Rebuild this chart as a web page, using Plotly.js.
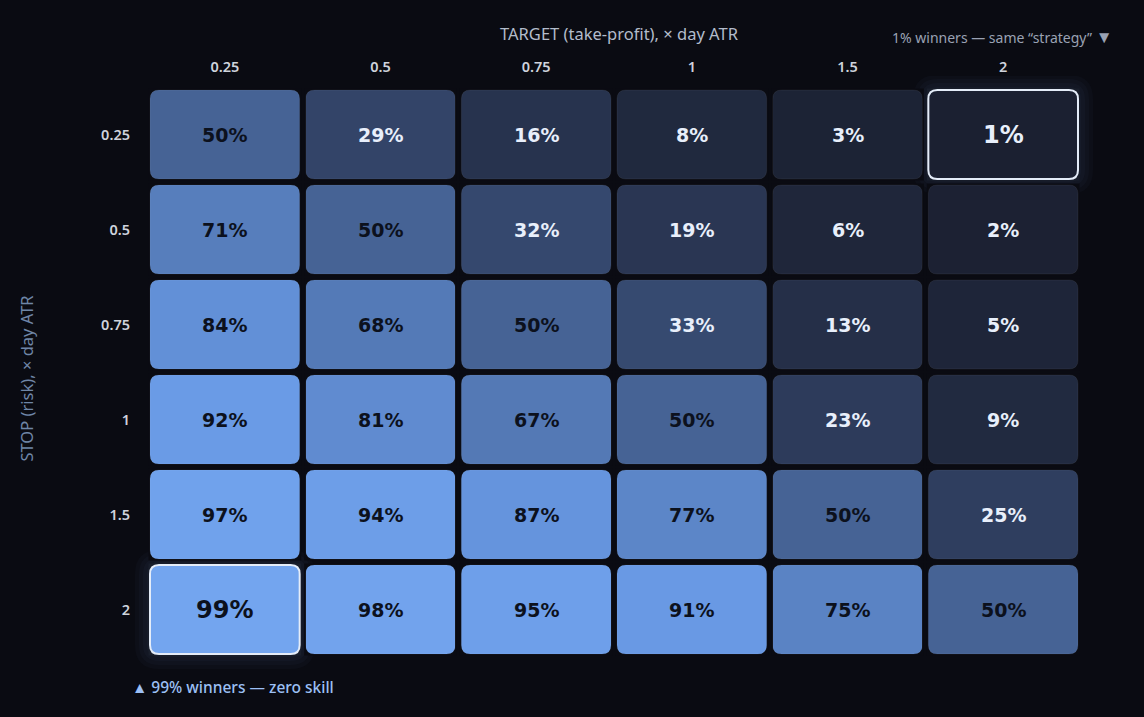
<!DOCTYPE html>
<html>
<head>
<meta charset="utf-8">
<script src="https://cdn.plot.ly/plotly-3.0.1.min.js"></script>
<style>
html,body{margin:0;padding:0;background:#0a0b12;}
#chart{width:1144px;height:717px;}
</style>
</head>
<body>
<div id="chart"></div>
<script>
// Target (take-profit) multiples, columns
const targetLabels = ["0.25", "0.5", "0.75", "1", "1.5", "2"];
// Stop (risk) multiples, rows
const stopLabels = ["0.25", "0.5", "0.75", "1", "1.5", "2"];
// Win rate (%) per stop row x target column
const row025 = [50, 29, 16, 8, 3, 1];
const row05  = [71, 50, 32, 19, 6, 2];
const row075 = [84, 68, 50, 33, 13, 5];
const row1   = [92, 81, 67, 50, 23, 9];
const row15  = [97, 94, 87, 77, 50, 25];
const row2   = [99, 98, 95, 91, 75, 50];
const winRates = [row025, row05, row075, row1, row15, row2];
// highlighted cells: [rowIndex, colIndex]
const highlightMin = [0, 5];
const highlightMax = [5, 0];
const topNote = "1% winners — same “strategy” <span style='font-size:17px'>▼</span>";
const bottomNote = "▲ 99% winners — zero skill";

const BG = "#0a0b12";
const W = 1144, H = 717;
// grid area (cells incl. half gaps) in pixels
const G = {l: 147, r: 1081, t: 87, b: 657};
// extra room around grid so glows are not clipped
const PAD = {l: 14, r: 24, t: 11, b: 24};
const M = {l: G.l - PAD.l, r: W - G.r - PAD.r, t: G.t - PAD.t, b: H - G.b - PAD.b};
const plotW = W - M.l - M.r, plotH = H - M.t - M.b;
const nx = targetLabels.length, ny = stopLabels.length;
const pxX = (G.r - G.l) / nx, pxY = (G.b - G.t) / ny;
const GAP = 6, RAD = 9;
const hx = (pxX - GAP) / 2 / pxX, hy = (pxY - GAP) / 2 / pxY;
const rx = RAD / pxX, ry = RAD / pxY;

const colorscale = [
  [0.00, "#1a1f2f"],
  [0.10, "#222b42"],
  [0.25, "#2f3e5f"],
  [0.50, "#466395"],
  [0.75, "#5a83c4"],
  [0.90, "#6898e3"],
  [1.00, "#74a6f0"]
];

function roundRect(cx, cy, epx) {
  const ex = epx / pxX, ey = epx / pxY;
  const x0 = cx - hx - ex, x1 = cx + hx + ex;
  const y0 = cy - hy - ey, y1 = cy + hy + ey;
  const a = rx + ex, b = ry + ey;
  return `M${x0 + a},${y0} L${x1 - a},${y0} Q${x1},${y0} ${x1},${y0 + b} ` +
         `L${x1},${y1 - b} Q${x1},${y1} ${x1 - a},${y1} L${x0 + a},${y1} ` +
         `Q${x0},${y1} ${x0},${y1 - b} L${x0},${y0 + b} Q${x0},${y0} ${x0 + a},${y0} Z`;
}
function cornerMask(cx, cy) {
  const e1 = 1.5 / pxX, e2 = 1.5 / pxY;
  const x0 = cx - hx - e1, x1 = cx + hx + e1, y0 = cy - hy - e2, y1 = cy + hy + e2;
  return `M${x0},${y0} L${x1},${y0} L${x1},${y1} L${x0},${y1} Z ` + roundRect(cx, cy, 0);
}

const xs = targetLabels.map((_, i) => i);
const ys = stopLabels.map((_, i) => i);
const isHiCell = (r, c) => (r === highlightMin[0] && c === highlightMin[1]) || (r === highlightMax[0] && c === highlightMax[1]);

const shapes = [];
const annotations = [];
// soft glow behind highlighted cells
[highlightMin, highlightMax].forEach(([r, c]) => {
  [15, 11, 7, 3].forEach(e => {
    shapes.push({type: "path", xref: "x", yref: "y", layer: "below",
      path: roundRect(c, r, e), line: {width: 0}, fillcolor: "rgba(125,160,230,0.033)"});
  });
});
for (let r = 0; r < ny; r++) {
  for (let c = 0; c < nx; c++) {
    const hi = isHiCell(r, c);
    shapes.push({type: "path", xref: "x", yref: "y", layer: "above",
      path: cornerMask(c, r), fillrule: "evenodd", fillcolor: hi ? "#191e2b" : BG, line: {width: 0}});
    shapes.push({type: "path", xref: "x", yref: "y", layer: "above",
      path: roundRect(c, r, 0), fillcolor: "rgba(0,0,0,0)",
      line: hi ? {color: "#e4ecf8", width: 2} : {color: "rgba(255,255,255,0.06)", width: 1}});
    const v = winRates[r][c];
    annotations.push({x: c, y: r, xref: "x", yref: "y", text: "<b>" + v + "%</b>", showarrow: false,
      font: {family: "DejaVu Sans, Verdana, sans-serif", size: hi ? 24 : 19, color: v >= 50 ? "#0c111d" : "#e8effb"}});
  }
}
const px2paperX = p => (p - M.l) / plotW;
const px2paperY = p => (H - M.b - p) / plotH;
annotations.push({xref: "paper", yref: "paper", x: px2paperX(1115), y: px2paperY(36),
  xanchor: "right", yanchor: "middle", showarrow: false, text: topNote,
  font: {family: "Noto Sans, sans-serif", size: 14, color: "#9aa2b3"}});
annotations.push({xref: "paper", yref: "paper", x: px2paperX(130), y: px2paperY(687),
  xanchor: "left", yanchor: "middle", showarrow: false, text: bottomNote,
  font: {family: "Noto Sans, sans-serif", size: 15.5, color: "#9cc0f5", weight: 500}});

const trace = {
  type: "heatmap",
  x: xs, y: ys, z: winRates,
  zmin: 0, zmax: 100,
  colorscale: colorscale,
  showscale: false,
  xgap: GAP, ygap: GAP,
  hovertemplate: "target %{x}<br>stop %{y}<br>%{z}%<extra></extra>"
};

const tickFont = {family: "Noto Sans, sans-serif", size: 14.5, color: "#cfd3dc", weight: 600};
const layout = {
  width: W, height: H,
  margin: M,
  paper_bgcolor: BG, plot_bgcolor: BG,
  font: {family: "Noto Sans, sans-serif", color: "#c9cdd6"},
  xaxis: {
    side: "top",
    range: [-0.5 - PAD.l / pxX, nx - 0.5 + PAD.r / pxX],
    tickvals: xs, ticktext: targetLabels,
    showgrid: false, zeroline: false, showline: false, ticks: "", ticklabelstandoff: 0,
    tickfont: tickFont,
    title: {text: "TARGET (take-profit), × day ATR", font: {size: 16.5, color: "#b3bccb"}, standoff: 11}
  },
  yaxis: {
    range: [ny - 0.5 + PAD.b / pxY, -0.5 - PAD.t / pxY],
    tickvals: ys, ticktext: stopLabels,
    showgrid: false, zeroline: false, showline: false, ticks: "", ticklabelstandoff: 2,
    tickfont: tickFont,
    title: {text: "STOP (risk), × day ATR", font: {size: 16.5, color: "#6f86a7"}, standoff: 63}
  },
  shapes: shapes,
  annotations: annotations
};

Plotly.newPlot("chart", [trace], layout, {displayModeBar: false});
</script>
</body>
</html>
